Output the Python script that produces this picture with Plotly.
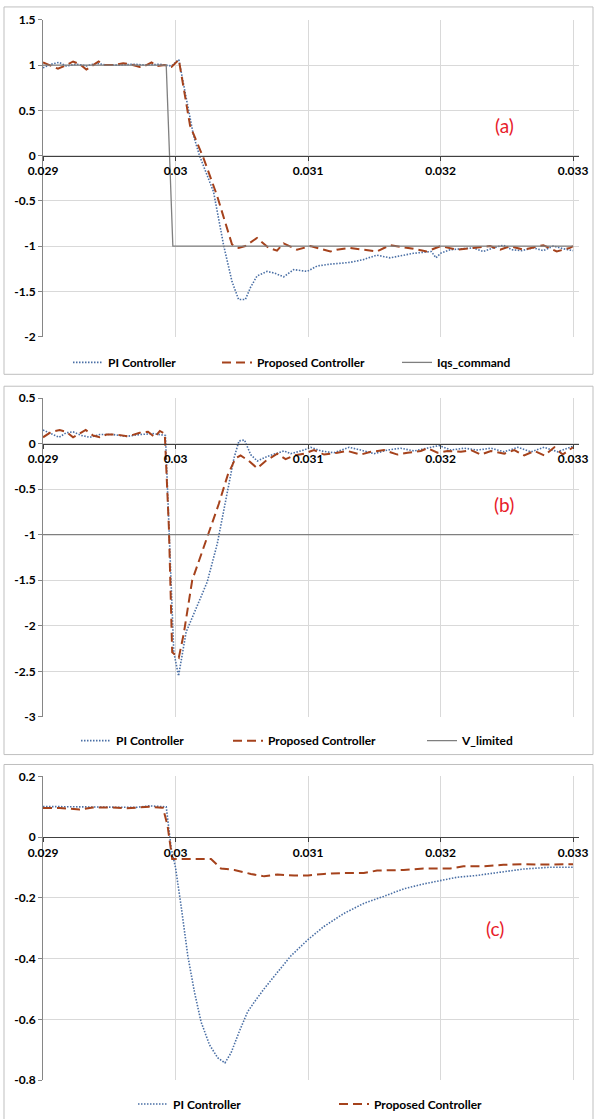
import plotly.graph_objects as go

# ---------------- Panel (a) ----------------
a_pi_t = [0.02900, 0.029063, 0.029121, 0.029176, 0.029252, 0.029327, 0.029403, 0.029479,
          0.02958, 0.02968, 0.029781, 0.029882, 0.02997, 0.030025, 0.030136, 0.030181,
          0.030287, 0.030363, 0.030426, 0.030476, 0.030527, 0.030565, 0.030615, 0.030691,
          0.03075, 0.030816, 0.030892, 0.030993, 0.031069, 0.031166, 0.031317, 0.031417,
          0.031518, 0.031619, 0.031795, 0.03193, 0.031966, 0.032, 0.032072, 0.032173,
          0.032248, 0.032323, 0.032399, 0.032474, 0.032537, 0.032612, 0.0327, 0.032776,
          0.032851, 0.032927, 0.033]
a_pi_v = [0.97, 1.01, 1.03, 0.99, 1.01, 0.99, 1.02, 1.0,
          1.0, 1.01, 1.0, 1.01, 0.99, 1.06, 0.22, 0.0,
          -0.40, -0.99, -1.39, -1.59, -1.59, -1.46, -1.33, -1.28,
          -1.30, -1.34, -1.26, -1.28, -1.22, -1.20, -1.18, -1.15,
          -1.10, -1.13, -1.08, -1.06, -1.13, -1.08, -1.04, -1.03,
          -1.02, -1.06, -1.02, -0.99, -1.04, -1.05, -1.02, -1.05,
          -1.0, -1.03, -1.05]

a_pr_t = [0.02900, 0.02905, 0.029113, 0.029176, 0.029227, 0.029277, 0.029327, 0.029378,
          0.02942, 0.029466, 0.029529, 0.029605, 0.029655, 0.02973, 0.029781, 0.029819,
          0.029856, 0.029919, 0.02997, 0.030025, 0.03011, 0.030212, 0.030313, 0.030426,
          0.030476, 0.030527, 0.030615, 0.030703, 0.030766, 0.030816, 0.030917, 0.031018,
          0.031169, 0.031216, 0.031317, 0.031518, 0.031619, 0.031795, 0.031896, 0.032,
          0.032122, 0.032248, 0.032374, 0.03245, 0.032525, 0.032625, 0.032776, 0.032877,
          0.032977, 0.033]
a_pr_v = [1.03, 1.0, 0.96, 1.0, 1.04, 1.01, 0.95, 1.0,
          1.04, 1.0, 1.0, 1.02, 1.01, 0.98, 1.0, 1.03,
          0.99, 1.0, 0.98, 1.06, 0.33, -0.03, -0.44, -0.98,
          -1.02, -1.0, -0.91, -1.02, -1.05, -0.97, -1.04, -1.0,
          -1.06, -1.04, -1.02, -1.06, -0.99, -1.03, -1.06, -1.0,
          -1.04, -1.02, -1.0, -1.04, -1.0, -1.04, -0.99, -1.06,
          -1.02, -1.0]

a_cmd_t = [0.029, 0.02993, 0.02998, 0.033]
a_cmd_v = [1.0, 1.0, -1.0, -1.0]

# ---------------- Panel (b) ----------------
b_pi_t = [0.02900, 0.029063, 0.029121, 0.029176, 0.029227, 0.02929, 0.029353, 0.029428,
          0.029529, 0.02963, 0.02973, 0.02983, 0.029907, 0.029924, 0.029987, 0.030023,
          0.03008, 0.030167, 0.030239, 0.030315, 0.03039, 0.030441, 0.030479, 0.030521,
          0.030567, 0.030617, 0.030693, 0.030768, 0.030819, 0.030869, 0.03097, 0.03102,
          0.031096, 0.031196, 0.03131, 0.031398, 0.031499, 0.0316, 0.0317, 0.031801,
          0.031927, 0.03199, 0.032078, 0.032179, 0.03228, 0.03238, 0.032481, 0.032582,
          0.032683, 0.032783, 0.032884, 0.032985, 0.033]
b_pi_v = [0.15, 0.11, 0.07, 0.12, 0.13, 0.09, 0.07, 0.10,
          0.10, 0.08, 0.10, 0.11, 0.10, 0.09, -2.29, -2.55,
          -2.07, -1.76, -1.52, -1.10, -0.52, -0.16, 0.03, 0.04,
          -0.12, -0.19, -0.14, -0.10, -0.08, -0.11, -0.07, -0.04,
          -0.08, -0.10, -0.04, -0.07, -0.11, -0.07, -0.05, -0.08,
          -0.04, -0.02, -0.07, -0.05, -0.07, -0.05, -0.09, -0.04,
          -0.09, -0.04, -0.09, -0.04, -0.03]

b_pr_t = [0.02900, 0.029063, 0.029126, 0.029176, 0.029227, 0.029277, 0.029322, 0.029378,
          0.029428, 0.029479, 0.029554, 0.029642, 0.02973, 0.029793, 0.029844, 0.029882,
          0.029919, 0.02995, 0.029975, 0.030025, 0.030063, 0.030126, 0.030189, 0.030252,
          0.030327, 0.030395, 0.030453, 0.030491, 0.030554, 0.030617, 0.03068, 0.030768,
          0.030831, 0.030894, 0.03097, 0.031045, 0.031121, 0.031222, 0.031297, 0.031398,
          0.031474, 0.031574, 0.031675, 0.031751, 0.031851, 0.031902, 0.031977, 0.032053,
          0.032154, 0.032229, 0.032305, 0.03238, 0.032481, 0.032557, 0.032632, 0.032708,
          0.032783, 0.032859, 0.032922, 0.033]
b_pr_v = [0.07, 0.13, 0.15, 0.13, 0.07, 0.11, 0.15, 0.09,
          0.07, 0.10, 0.10, 0.08, 0.12, 0.13, 0.07, 0.14,
          0.11, -0.92, -2.29, -2.35, -2.08, -1.50, -1.24, -0.99,
          -0.66, -0.34, -0.16, -0.13, -0.19, -0.27, -0.19, -0.11,
          -0.17, -0.13, -0.11, -0.07, -0.12, -0.10, -0.08, -0.12,
          -0.09, -0.07, -0.12, -0.10, -0.08, -0.05, -0.10, -0.08,
          -0.09, -0.07, -0.12, -0.08, -0.11, -0.07, -0.13, -0.08,
          -0.13, -0.04, -0.12, -0.04]

b_lim_t = [0.029, 0.033]
b_lim_v = [-1.0, -1.0]

# ---------------- Panel (c) ----------------
c_pi_t = [0.02900, 0.0292, 0.02945, 0.0297, 0.02980, 0.02993, 0.029967, 0.03,
          0.030043, 0.030093, 0.030143, 0.030193, 0.030256, 0.030318, 0.030373, 0.030419,
          0.030481, 0.030544, 0.030594, 0.030669, 0.030769, 0.03087, 0.031, 0.03112,
          0.031271, 0.031421, 0.031571, 0.031722, 0.031872, 0.032, 0.032123, 0.032273,
          0.032449, 0.032624, 0.032824, 0.033]
c_pi_v = [0.101, 0.100, 0.098, 0.098, 0.103, 0.100, -0.035, -0.10,
          -0.229, -0.391, -0.51, -0.608, -0.683, -0.726, -0.743, -0.71,
          -0.64, -0.575, -0.543, -0.499, -0.445, -0.391, -0.337, -0.294,
          -0.251, -0.218, -0.195, -0.17, -0.154, -0.143, -0.132, -0.126,
          -0.116, -0.105, -0.099, -0.099]

c_pr_t = [0.02900, 0.029126, 0.029276, 0.029377, 0.029503, 0.029628, 0.029729, 0.029804,
          0.029905, 0.02994, 0.029975, 0.030268, 0.030343, 0.030444, 0.030569, 0.030669,
          0.030769, 0.030895, 0.031, 0.03112, 0.031271, 0.031421, 0.031521, 0.031722,
          0.031872, 0.032, 0.032073, 0.032173, 0.032323, 0.032474, 0.032624, 0.032774,
          0.0329, 0.033]
c_pr_v = [0.096, 0.096, 0.091, 0.098, 0.098, 0.095, 0.098, 0.100,
          0.097, 0.038, -0.072, -0.072, -0.103, -0.108, -0.121, -0.129,
          -0.123, -0.126, -0.126, -0.121, -0.118, -0.118, -0.110, -0.108,
          -0.103, -0.102, -0.103, -0.096, -0.096, -0.091, -0.089, -0.090,
          -0.089, -0.089]

x_ticks = [0.029, 0.030, 0.031, 0.032, 0.033]
x_tick_text = ["0.029", "0.03", "0.031", "0.032", "0.033"]

y_ticks_a = [-2, -1.5, -1, -0.5, 0, 0.5, 1, 1.5]
y_ticks_b = [-3, -2.5, -2, -1.5, -1, -0.5, 0, 0.5]
y_ticks_c = [-0.8, -0.6, -0.4, -0.2, 0, 0.2]

# ---------------- Styling / layout ----------------
W, H = 595, 1119
PI_COLOR = "#4A6FA5"
PR_COLOR = "#A5421C"
REF_COLOR = "#7F7F7F"
FONT = "Lato"

def px_y(p):
    return 1 - p / H

x_dom = [43 / W, 579 / W]
x_range = [0.029, 0.033045]

panels = [
    dict(yr=[-2, 1.5], yt=y_ticks_a, ytop=20, ybot=339, box=(7, 377), label="(a)",
         lab_xy=(0.03248, 0.33)),
    dict(yr=[-3, 0.5], yt=y_ticks_b, ytop=401, ybot=722, box=(389, 760), label="(b)",
         lab_xy=(0.03248, -0.67)),
    dict(yr=[-0.8, 0.2], yt=y_ticks_c, ytop=782, ybot=1088, box=(770, 1130), label="(c)",
         lab_xy=(0.03241, -0.30)),
]

fig = go.Figure()
layout = dict(
    width=W, height=H,
    margin=dict(l=0, r=0, t=0, b=0),
    paper_bgcolor="white", plot_bgcolor="white",
    font=dict(family=FONT, size=12, color="#000000"),
    shapes=[], annotations=[], showlegend=True,
)

DOT = "1.5px,1.5px"
DASH = "9px,5px"
leg_count = [0]

def add_line(t, v, name, color, dash, width, k, text_x, leg_y):
    sfx = "" if k == 1 else str(k)
    leg_count[0] += 1
    n = leg_count[0]
    lk = "legend" if n == 1 else "legend%d" % n
    fig.add_trace(go.Scatter(
        x=t, y=v, mode="lines", name="<b>%s</b>" % name,
        line=dict(color=color, dash=dash, width=width),
        xaxis="x" + sfx, yaxis="y" + sfx,
        legend=lk, hoverinfo="skip"))
    layout[lk] = dict(
        orientation="h", x=(text_x - 45) / W, xanchor="left",
        y=px_y(leg_y), yanchor="middle",
        font=dict(family=FONT, size=12, color="#000"),
        bgcolor="rgba(0,0,0,0)", borderwidth=0, itemwidth=30,
    )

add_line(a_pi_t, a_pi_v, "PI Controller", PI_COLOR, DOT, 1.6, 1, 113, 365)
add_line(a_pr_t, a_pr_v, "Proposed Controller", PR_COLOR, DASH, 2, 1, 262, 365)
add_line(a_cmd_t, a_cmd_v, "Iqs_command", REF_COLOR, "solid", 1.3, 1, 442, 365)

add_line(b_pi_t, b_pi_v, "PI Controller", PI_COLOR, DOT, 1.6, 2, 121, 746)
add_line(b_pr_t, b_pr_v, "Proposed Controller", PR_COLOR, DASH, 2, 2, 273, 746)
add_line(b_lim_t, b_lim_v, "V_limited", REF_COLOR, "solid", 1.3, 2, 467, 746)

add_line(c_pi_t, c_pi_v, "PI Controller", PI_COLOR, DOT, 1.6, 3, 178, 1112)
add_line(c_pr_t, c_pr_v, "Proposed Controller", PR_COLOR, DASH, 2, 3, 379, 1112)

for i, p in enumerate(panels):
    k = i + 1
    sfx = "" if k == 1 else str(k)
    ydom = [px_y(p["ybot"]), px_y(p["ytop"])]
    y0, y1 = p["yr"]
    xpos = ydom[0] + (0 - y0) / (y1 - y0) * (ydom[1] - ydom[0])
    layout["xaxis" + sfx] = dict(
        domain=x_dom, range=x_range, anchor="free", position=xpos,
        tickmode="array", tickvals=x_ticks,
        ticktext=["<b>%s</b>" % s for s in x_tick_text],
        showgrid=True, gridcolor="#D9D9D9", gridwidth=1,
        showline=True, linecolor="#404040", linewidth=1,
        ticks="outside", ticklen=4, tickcolor="#404040",
        tickfont=dict(family=FONT, size=12, color="#000"),
        zeroline=False, fixedrange=True, automargin=False,
    )
    layout["yaxis" + sfx] = dict(
        domain=ydom, range=p["yr"], anchor="x" + sfx,
        tickmode="array", tickvals=p["yt"],
        ticktext=["<b>%g</b>" % t for t in p["yt"]],
        showgrid=True, gridcolor="#D9D9D9", gridwidth=1,
        showline=True, linecolor="#868686", linewidth=1,
        ticks="outside", ticklen=4, tickcolor="#868686",
        tickfont=dict(family=FONT, size=12, color="#000"),
        zeroline=False, fixedrange=True, automargin=False,
    )
    layout["shapes"].append(dict(
        type="rect", xref="paper", yref="paper",
        x0=4 / W, x1=593 / W, y0=px_y(p["box"][1]), y1=px_y(p["box"][0]),
        line=dict(color="#BFBFBF", width=1), fillcolor="rgba(0,0,0,0)", layer="below"))
    layout["annotations"].append(dict(
        x=p["lab_xy"][0], y=p["lab_xy"][1], xref="x" + sfx, yref="y" + sfx,
        text=p["label"], showarrow=False,
        font=dict(family=FONT, size=19, color="#E8202A")))

fig.update_layout(**layout)
fig.write_html("out.html",
               config={"displayModeBar": False, "staticPlot": True},
               post_script="document.body.style.margin='0';document.body.style.overflow='hidden';")
